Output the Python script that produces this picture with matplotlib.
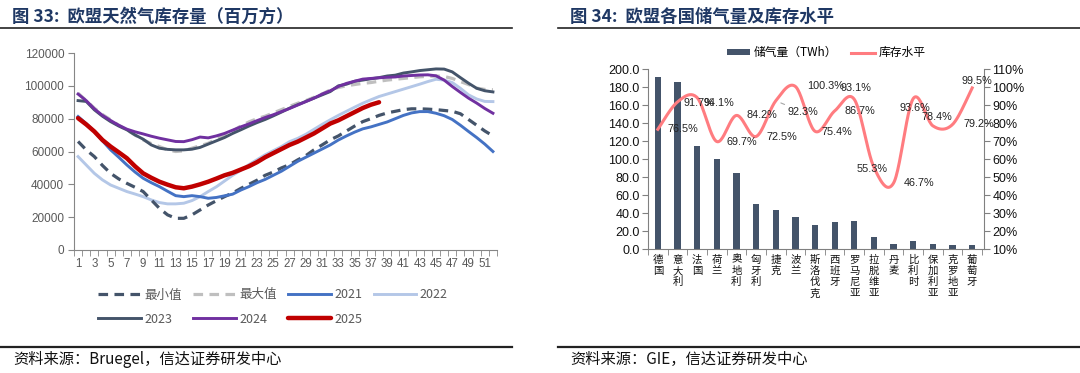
import numpy as np
import matplotlib
matplotlib.use("Agg")
import matplotlib.pyplot as plt
from matplotlib.lines import Line2D

plt.rcParams['font.family'] = ['Liberation Sans', 'Noto Sans CJK SC', 'DejaVu Sans']
CJK = ['Noto Sans CJK SC', 'DejaVu Sans']

# ---------- data: EU gas storage (million m3), by week ----------
weeks = list(range(1, 53))
stor_min = [66100, 61000, 56900, 51500, 46700, 43300, 40600, 38200, 35600, 30500,
            25400, 21400, 19300, 19300, 21400, 24400, 27400, 30000, 32500, 34700,
            37500, 40000, 42500, 45500, 47500, 50000, 52000, 54900, 57500, 61000,
            64000, 67100, 69500, 72500, 75500, 78200, 80000, 82000, 83500, 84500,
            85500, 86000, 86000, 85800, 85500, 85000, 84500, 83000, 79500, 76000,
            72500, 69500]
stor_max = [95500, 91000, 86400, 82500, 79300, 76000, 73200, 70000, 67100, 64800,
            63000, 61000, 60000, 60400, 62000, 63500, 65000, 67500, 70000, 72500,
            75500, 78000, 80000, 81500, 83500, 85500, 87500, 89400, 91000, 93000,
            95000, 97500, 99000, 100000, 100800, 101500, 102000, 102800, 103500, 104000,
            104500, 105000, 105500, 105800, 106000, 105700, 104500, 102600, 100800, 98600,
            97800, 97600]
y2021 = [81300, 77000, 72200, 66500, 61000, 56500, 51800, 47500, 43700, 41000,
         38600, 35800, 33100, 32500, 33100, 32500, 31500, 32000, 33000, 34000,
         36500, 38600, 41000, 43000, 45500, 48000, 51000, 54000, 56500, 59000,
         61500, 64000, 67000, 69500, 71800, 73800, 75000, 76500, 78000, 80000,
         82000, 83500, 84300, 84300, 83300, 81800, 79500, 76000, 72200, 68500,
         64500, 60000]
y2022 = [56900, 51800, 46700, 42700, 39600, 37600, 35600, 34100, 32500, 30500,
         28900, 28100, 28100, 28500, 30100, 32500, 35600, 38500, 42000, 45500,
         48500, 52000, 55000, 58000, 60500, 63000, 66000, 68000, 70500, 73500,
         76500, 79300, 82000, 84500, 87000, 89400, 91500, 93500, 95000, 96500,
         98000, 99500, 101000, 102600, 104000, 103500, 102000, 98500, 94500, 92000,
         90500, 90400]
y2023 = [91000, 90500, 85400, 81500, 78200, 75500, 73200, 70100, 67500, 64000,
         62000, 61300, 61000, 61000, 61400, 62500, 64500, 66500, 68500, 71000,
         73200, 75500, 77600, 79500, 81700, 84000, 86400, 88500, 90500, 92500,
         94500, 96500, 100000, 101000, 102800, 103500, 104300, 105000, 106000, 106500,
         107800, 108500, 109300, 109800, 110300, 110200, 108500, 105000, 101600, 98500,
         97000, 96300]
y2024 = [95000, 91000, 86000, 82000, 78900, 76000, 73600, 72000, 70700, 69300,
         68100, 67100, 66100, 66000, 67200, 68800, 68300, 69500, 71000, 73000,
         75000, 76800, 78800, 80700, 82400, 84300, 86200, 88300, 90400, 92500,
         95000, 97000, 99600, 101500, 102800, 104100, 104500, 104900, 105200, 105400,
         106000, 106300, 106600, 106700, 106100, 103500, 99600, 96000, 92500, 89500,
         86200, 83300]
y2025 = [80300, 76500, 72200, 67000, 63000, 59500, 55900, 51000, 46700, 44000,
         41600, 39800, 38200, 37600, 38600, 40000, 41600, 43500, 45500, 47000,
         49000, 51000, 53500, 56500, 59000, 61500, 64000, 66000, 68500, 71000,
         74000, 77000, 79000, 81500, 84000, 86500, 88500, 90000]

# ---------- data: storage by country ----------
countries = ['德国', '意大利', '法国', '荷兰', '奥地利', '匈牙利', '捷克', '波兰', '斯洛伐克',
             '西班牙', '罗马尼亚', '拉脱维亚', '丹麦', '比利时', '保加利亚', '克罗地亚', '葡萄牙']
storage_twh = [191.5, 186.0, 114.4, 100.3, 84.8, 49.6, 43.3, 36.0, 26.7,
               30.4, 31.0, 13.7, 5.2, 8.5, 6.0, 4.4, 4.0]
fill_pct = [76.5, 91.7, 94.1, 69.7, 84.2, 72.5, 92.3, 100.3, 75.4,
            86.7, 93.1, 55.3, 46.7, 93.6, 78.4, 79.2, 99.5]
# label offsets in pixels (dx, dy up)
label_offsets = [(25, 0), (21, -1), (22, -5), (25, 0), (25, 0), (26, 0), (27, -11), (30, 0),
                 (22, -1), (25, 0), (2, 11), (-2, -2), (25, 0), (2, -9), (4, 9), (26, 0), (5, 7)]

fig = plt.figure(figsize=(10.8, 3.73), dpi=100)

# ---------- titles, rules, sources ----------
title_color = '#1F3864'
fig.text(12 / 1080, 1 - 17 / 373, '图 33:  欧盟天然气库存量（百万方）', family=CJK,
         fontsize=12.5, fontweight='bold', color=title_color, va='center')
fig.text(570 / 1080, 1 - 17 / 373, '图 34:  欧盟各国储气量及库存水平', family=CJK,
         fontsize=12.5, fontweight='bold', color=title_color, va='center')
for x0, x1 in [(0, 512), (558, 1080)]:
    fig.add_artist(Line2D([x0 / 1080, x1 / 1080], [1 - 27.5 / 373] * 2, color='#222222', lw=1.2))
    fig.add_artist(Line2D([x0 / 1080, x1 / 1080], [1 - 347 / 373] * 2, color='#222222', lw=1.6))
fig.text(13 / 1080, 1 - 359 / 373, '资料来源：Bruegel，信达证券研发中心', family=CJK,
         fontsize=11, style='italic', color='#111111', va='center')
fig.text(570 / 1080, 1 - 359 / 373, '资料来源：GIE，信达证券研发中心', family=CJK,
         fontsize=11, style='italic', color='#111111', va='center')

# ---------- left chart ----------
ax = fig.add_axes([74 / 1080, 1 - 250 / 373, (497 - 74) / 1080, (250 - 53) / 373])
ax.plot(weeks, stor_min, color='#44546A', lw=2.3, dashes=(3, 2), label='最小值', zorder=3)
ax.plot(weeks, stor_max, color='#BFBFBF', lw=2.3, dashes=(3, 2), label='最大值', zorder=2)
ax.plot(weeks, y2021, color='#4472C4', lw=2.1, label='2021', zorder=3)
ax.plot(weeks, y2022, color='#B4C7E7', lw=2.1, label='2022', zorder=2)
ax.plot(weeks, y2023, color='#44546A', lw=2.1, label='2023', zorder=3)
ax.plot(weeks, y2024, color='#7030A0', lw=2.1, label='2024', zorder=4)
ax.plot(weeks[:len(y2025)], y2025, color='#C00000', lw=3.2, label='2025', zorder=5,
        solid_capstyle='round')

ax.set_xlim(0.5, 52.5)
ax.set_ylim(0, 120000)
ax.set_yticks(range(0, 120001, 20000))
ax.set_xticks(range(1, 53, 2))
ax.set_xticks(np.arange(0.5, 53, 1), minor=True)
for s in ['top', 'right']:
    ax.spines[s].set_visible(False)
for s in ['left', 'bottom']:
    ax.spines[s].set_color('#868686')
ax.tick_params(axis='y', direction='out', length=4, color='#868686', labelsize=8.5,
               labelcolor='#595959', pad=3)
ax.tick_params(axis='x', which='major', length=0, labelsize=8.3, labelcolor='#595959', pad=6)
ax.tick_params(axis='x', which='minor', direction='out', length=4, color='#868686')

# row-major order for a 4-column legend
h, l = ax.get_legend_handles_labels()
order = [0, 4, 1, 5, 2, 6, 3]
ax.legend([h[i] for i in order], [l[i] for i in order], loc='upper left',
          bbox_to_anchor=(0.045, -0.17), ncol=4, frameon=False,
          prop={'family': CJK, 'size': 9}, labelcolor='#595959', handlelength=3.4,
          handletextpad=0.3, columnspacing=0.9, labelspacing=0.9, borderaxespad=0)

# ---------- right chart ----------
ax2 = fig.add_axes([648 / 1080, 1 - 249 / 373, (984 - 648) / 1080, (249 - 69) / 373])
xpos = np.arange(len(countries))
ax2.bar(xpos, storage_twh, width=0.32, color='#44546A', label='储气量（TWh）', zorder=2)
ax2.set_xlim(-0.5, 16.6)
ax2.set_ylim(0, 200)
ax2.set_yticks(np.arange(0, 201, 20))
ax2.set_yticklabels([f'{v:.1f}' for v in np.arange(0, 201, 20)])
ax2.set_xticks(xpos)
ax2.set_xticklabels(['\n'.join(c) for c in countries], family=CJK, fontsize=7.5,
                    linespacing=1.15, va='top')
ax2.set_xticks(np.arange(-0.5, 17, 1), minor=True)
ax2.tick_params(axis='x', which='major', length=0, pad=4, labelcolor='#111111')
ax2.tick_params(axis='x', which='minor', direction='out', length=4, color='#808080')
ax2.tick_params(axis='y', direction='out', length=4, color='#808080', labelsize=9,
                labelcolor='#111111', pad=2)
for s in ['top', 'right']:
    ax2.spines[s].set_visible(False)
ax2.spines['left'].set_color('#808080')
ax2.spines['bottom'].set_color('#808080')

ax3 = ax2.twinx()
ax3.set_ylim(10, 110)
ax3.set_yticks(range(10, 111, 10))
ax3.set_yticklabels([f'{v}%' for v in range(10, 111, 10)])
ax3.tick_params(axis='y', direction='out', length=4, color='#808080', labelsize=9,
                labelcolor='#111111', pad=2)
for s in ['top', 'left', 'bottom']:
    ax3.spines[s].set_visible(False)
ax3.spines['right'].set_color('#808080')

# smoothed line (Excel-style Bezier through points)
px = xpos.astype(float)
py = np.array(fill_pct, dtype=float)
xs, ys = [], []
n = len(px)
for i in range(n - 1):
    p0 = np.array([px[max(i - 1, 0)], py[max(i - 1, 0)]])
    p1 = np.array([px[i], py[i]])
    p2 = np.array([px[i + 1], py[i + 1]])
    p3 = np.array([px[min(i + 2, n - 1)], py[min(i + 2, n - 1)]])
    c1 = p1 + (p2 - p0) / 6
    c2 = p2 - (p3 - p1) / 6
    t = np.linspace(0, 1, 25)[:, None]
    seg = (1 - t) ** 3 * p1 + 3 * (1 - t) ** 2 * t * c1 + 3 * (1 - t) * t ** 2 * c2 + t ** 3 * p2
    xs.extend(seg[:, 0])
    ys.extend(seg[:, 1])
ax3.plot(xs, ys, color='#FF7C80', lw=2.2, label='库存水平', zorder=3)

for i, (v, off) in enumerate(zip(fill_pct, label_offsets)):
    kw = {}
    if i == 6:
        kw['arrowprops'] = dict(arrowstyle='-', color='#A6A6A6', lw=0.8, shrinkA=0, shrinkB=4)
    ax3.annotate(f'{v}%', xy=(i, v), xytext=(off[0], off[1]), textcoords='offset pixels',
                 ha='center', va='center', fontsize=7.8, color='#222222', **kw)

h1, l1 = ax2.get_legend_handles_labels()
h2, l2 = ax3.get_legend_handles_labels()
ax2.legend(h1 + h2, l1 + l2, loc='center', bbox_to_anchor=(0.53, 1.09), ncol=2, frameon=False,
           prop={'family': CJK, 'size': 8.5}, handlelength=2.0, handleheight=0.5,
           handletextpad=0.3, columnspacing=1.2, borderaxespad=0)

fig.savefig('out.png', dpi=100)
